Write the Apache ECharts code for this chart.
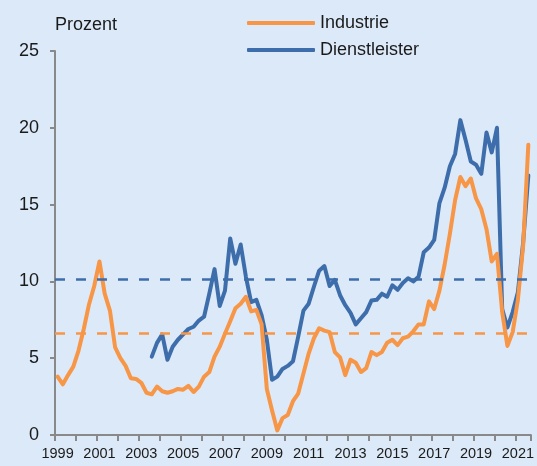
<!DOCTYPE html>
<html>
<head>
<meta charset="utf-8">
<script src="https://cdn.jsdelivr.net/npm/echarts@6/dist/echarts.min.js"></script>
<style>
  html, body { margin: 0; padding: 0; background: #dce9f8; }
  #main { width: 537px; height: 466px; }
</style>
</head>
<body>
<div id="main"></div>
<script>
// quarterly values, 1999Q1 .. 2021Q3
var industrie = [
  3.8, 3.3, 3.9, 4.45, 5.5, 6.9, 8.5, 9.7,
  11.3, 9.2, 8.1, 5.7, 5.0, 4.5, 3.7, 3.65,
  3.4, 2.75, 2.65, 3.15, 2.85, 2.75, 2.85, 3.0,
  2.95, 3.2, 2.8, 3.15, 3.8, 4.1, 5.1, 5.75,
  6.6, 7.4, 8.25, 8.55, 9.0, 8.05, 8.15, 7.2,
  3.0, 1.6, 0.3, 1.1, 1.3, 2.2, 2.7, 4.0,
  5.3, 6.3, 6.95, 6.8, 6.7, 5.4, 5.05, 3.9,
  4.9, 4.7, 4.1, 4.35, 5.4, 5.2, 5.4, 6.0,
  6.2, 5.85, 6.3, 6.4, 6.75, 7.2, 7.2, 8.7,
  8.2, 9.4, 11.1, 13.1, 15.3, 16.8, 16.2, 16.7,
  15.4, 14.7, 13.4, 11.3, 11.8, 8.0, 5.8, 6.7,
  8.8, 12.3, 18.9
];
var dienstleister = [
  null, null, null, null, null, null, null, null,
  null, null, null, null, null, null, null, null,
  null, null, 5.1, 6.0, 6.55, 4.9, 5.75, 6.2,
  6.55, 6.9, 7.05, 7.45, 7.7, 9.2, 10.8, 8.4,
  9.4, 12.8, 11.15, 12.4, 10.3, 8.65, 8.8, 7.8,
  6.2, 3.6, 3.8, 4.3, 4.5, 4.8, 6.4, 8.1,
  8.55, 9.65, 10.7, 11.0, 9.7, 10.1, 9.1, 8.45,
  7.95, 7.2, 7.6, 8.0, 8.75, 8.8, 9.2, 9.0,
  9.75, 9.45, 9.9, 10.2, 10.0, 10.3, 11.9, 12.2,
  12.7, 15.1, 16.1, 17.5, 18.3, 20.5, 19.2, 17.8,
  17.6, 17.0, 19.7, 18.4, 20.0, 8.2, 7.0, 8.0,
  9.3, 12.5, 16.9
];
// long-run averages (dashed lines)
var avgIndustrie = 6.65;
var avgDienstleister = 10.15;

var quarters = [];
for (var y = 1999; y <= 2021; y++) {
  for (var q = 1; q <= 4; q++) {
    if (y === 2021 && q > 3) break;
    quarters.push(y + 'Q' + q);
  }
}

var orange = '#f79646';
var blue = '#3d6eab';
var textCol = '#1a1a1a';
var axisCol = '#898989';
var font = 'Arial, "Liberation Sans", sans-serif';

var chart = echarts.init(document.getElementById('main'));
chart.setOption({
  backgroundColor: '#dce9f8',
  animation: false,
  textStyle: { fontFamily: font },
  grid: { left: 55, right: 4, top: 51, bottom: 31 },
  legend: {
    orient: 'vertical',
    left: 247,
    top: 14,
    padding: 0,
    icon: 'roundRect',
    itemWidth: 68,
    itemHeight: 4,
    itemGap: 9,
    textStyle: { fontSize: 18, color: textCol, lineHeight: 18, fontFamily: font },
    data: ['Industrie', 'Dienstleister']
  },
  xAxis: {
    type: 'category',
    data: quarters,
    boundaryGap: true,
    axisLine: { lineStyle: { color: axisCol, width: 2 } },
    axisTick: { show: true, interval: 3, length: 6, lineStyle: { color: axisCol, width: 2 } },
    axisLabel: {
      interval: 7,
      margin: 11,
      fontSize: 14.5,
      color: textCol,
      formatter: function (v) { return v.slice(0, 4); }
    },
    splitLine: { show: false }
  },
  yAxis: {
    type: 'value',
    min: 0,
    max: 25,
    interval: 5,
    name: 'Prozent',
    nameLocation: 'end',
    nameGap: 26,
    nameTextStyle: { fontSize: 18, color: textCol, align: 'left', verticalAlign: 'middle' },
    axisLine: { show: true, lineStyle: { color: axisCol, width: 2 } },
    axisTick: { show: true, length: 5, lineStyle: { color: axisCol, width: 2 } },
    axisLabel: { fontSize: 18, color: textCol, margin: 16 },
    splitLine: { show: false }
  },
  series: [
    {
      name: 'Industrie',
      type: 'line',
      data: industrie,
      symbol: 'none',
      color: orange,
      lineStyle: { color: orange, width: 4, cap: 'round', join: 'round' },
      z: 3,
      markLine: {
        silent: true,
        symbol: 'none',
        label: { show: false },
        lineStyle: { color: orange, width: 2.5, type: [10, 11] },
        data: [{ yAxis: avgIndustrie }]
      }
    },
    {
      name: 'Dienstleister',
      type: 'line',
      data: dienstleister,
      symbol: 'none',
      color: blue,
      connectNulls: false,
      lineStyle: { color: blue, width: 4, cap: 'round', join: 'round' },
      z: 2,
      markLine: {
        silent: true,
        symbol: 'none',
        label: { show: false },
        lineStyle: { color: blue, width: 2.5, type: [10, 11] },
        data: [{ yAxis: avgDienstleister }]
      }
    }
  ]
});
</script>
</body>
</html>
